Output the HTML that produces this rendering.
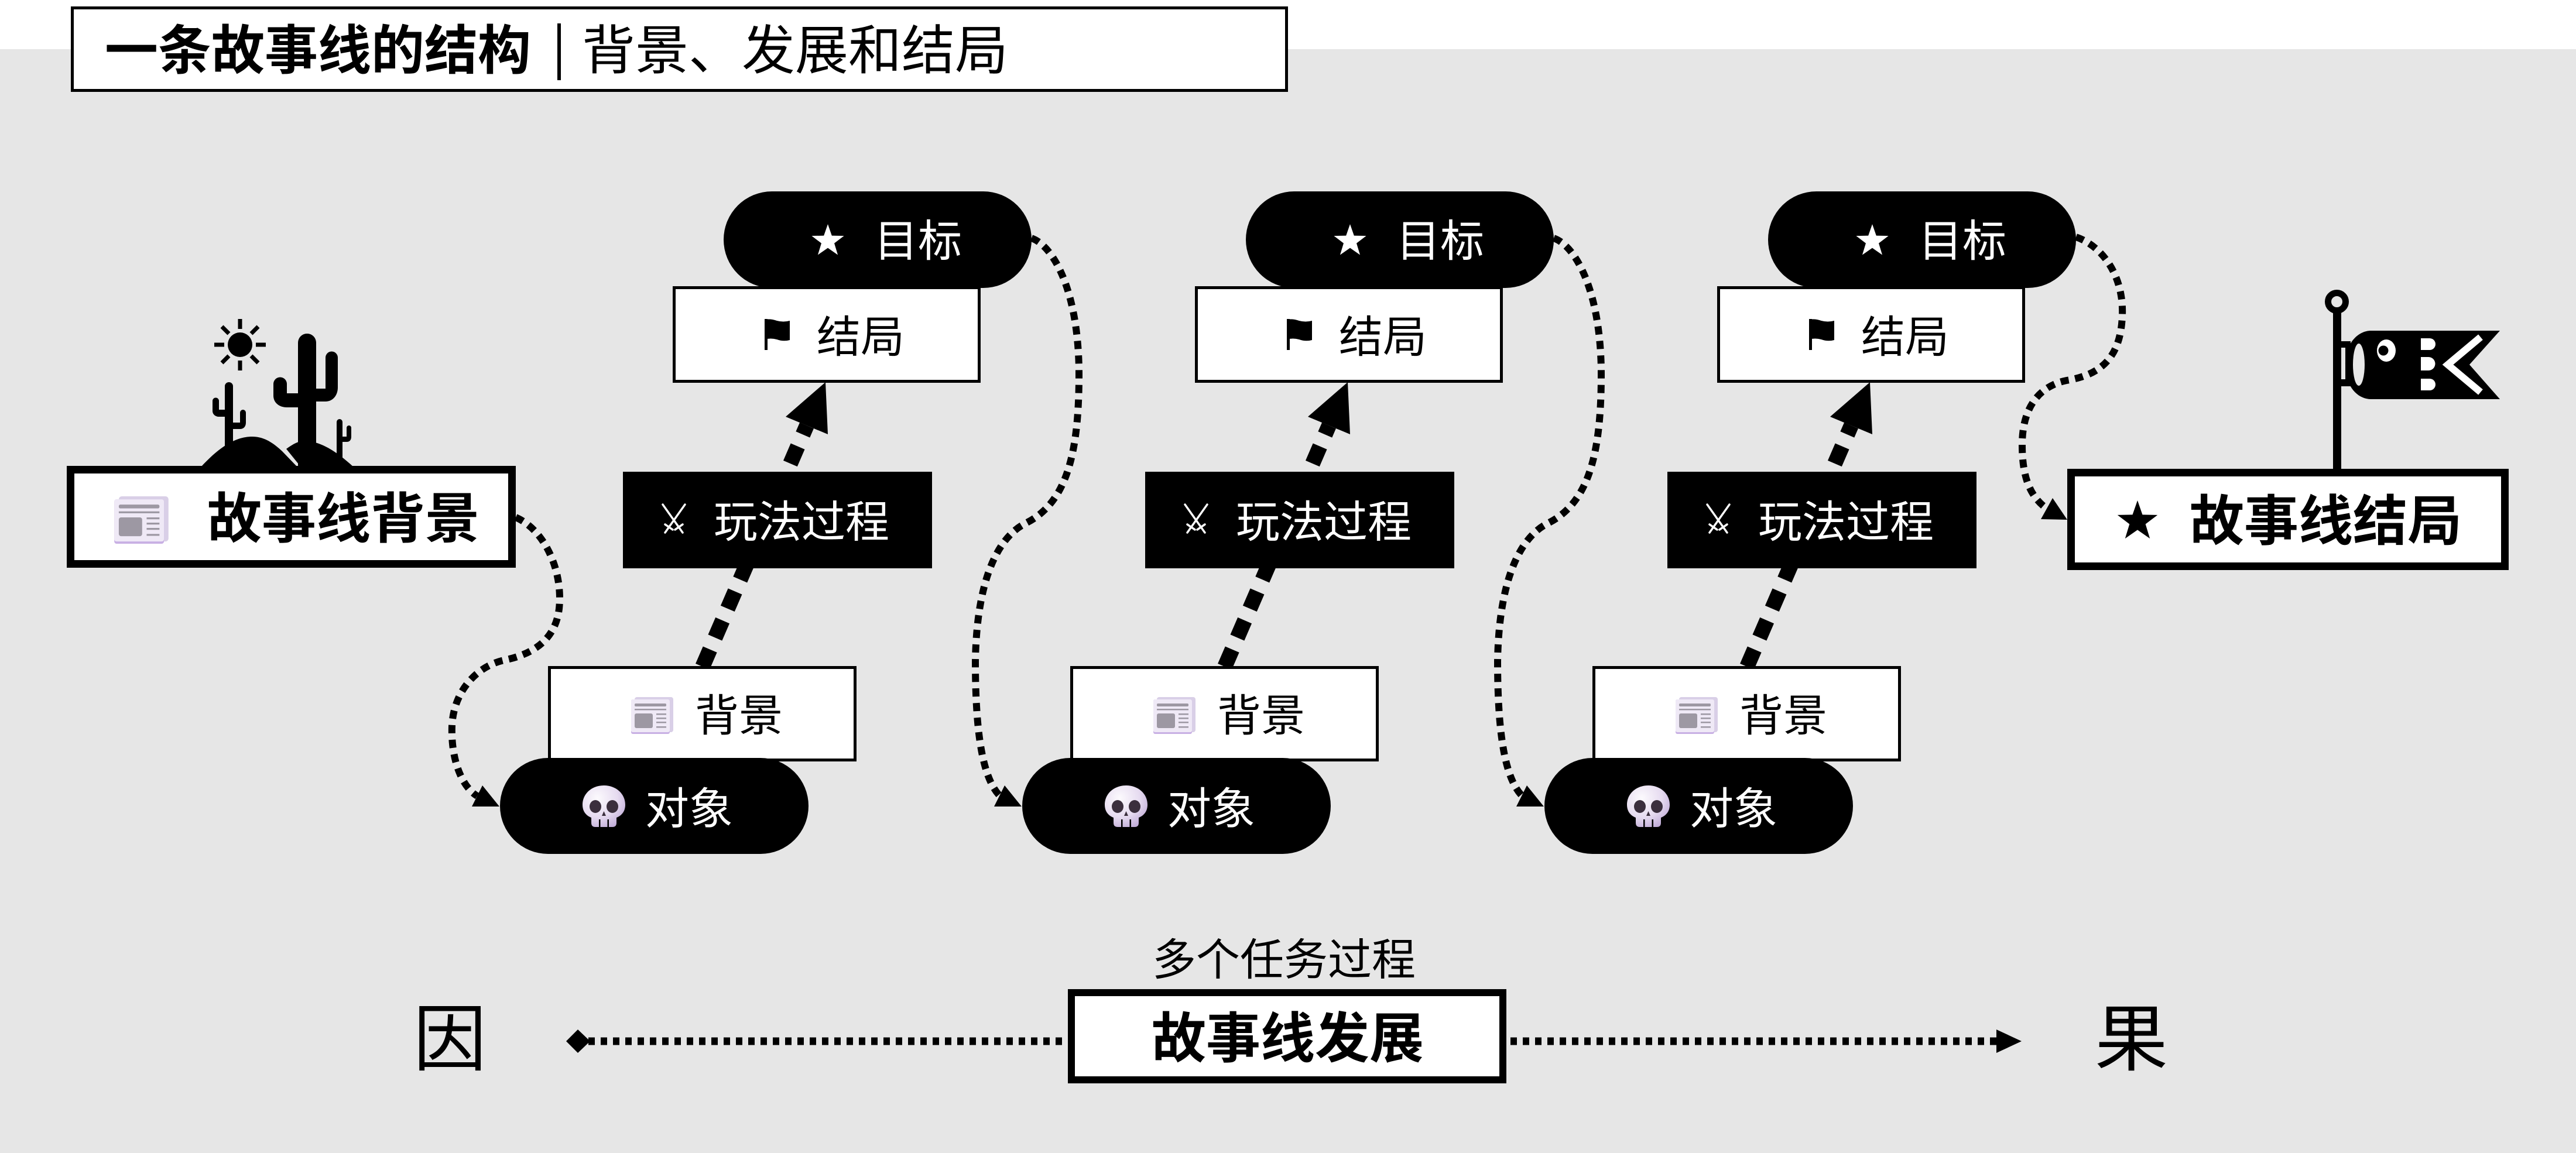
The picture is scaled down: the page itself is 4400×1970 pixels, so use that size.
<!DOCTYPE html>
<html>
<head>
<meta charset="utf-8">
<style>
html,body{margin:0;padding:0;background:#e6e6e6;}
svg{display:block}
text{font-family:"Liberation Sans","Noto Sans CJK SC","WenQuanYi Zen Hei",sans-serif;}
.b{font-weight:700}
</style>
</head>
<body>
<svg xmlns="http://www.w3.org/2000/svg" width="4400" height="1970" viewBox="0 0 4400 1970">
<defs>
  <radialGradient id="sk" cx="0.35" cy="0.3" r="0.85">
    <stop offset="0" stop-color="#fcfafd"/>
    <stop offset="0.55" stop-color="#e6dbf0"/>
    <stop offset="1" stop-color="#b9a2d3"/>
  </radialGradient>
  <symbol id="news" viewBox="0 0 72 63">
    <rect x="6" y="0" width="66" height="60" rx="4" fill="#d9cfe7"/>
    <rect x="0" y="4" width="66" height="59" rx="3" fill="#c8b0e4"/>
    <rect x="0" y="4" width="66" height="56" rx="3" fill="#efe9f6"/>
    <rect x="6" y="11" width="54" height="5" rx="2" fill="#9d98a3"/>
    <rect x="6" y="20" width="54" height="2.5" fill="#9d98a3"/>
    <rect x="6" y="28" width="31" height="25" rx="3" fill="#9d98a3"/>
    <rect x="43" y="28" width="17" height="2.5" fill="#9d98a3"/>
    <rect x="43" y="35" width="17" height="2.5" fill="#9d98a3"/>
    <rect x="43" y="42" width="17" height="2.5" fill="#9d98a3"/>
    <rect x="43" y="50" width="17" height="2.5" fill="#9d98a3"/>
  </symbol>
  <symbol id="skull" viewBox="0 0 73 71">
    <path d="M36.5 0 C57 0 73 14 73 33 C73 45 66 52 58 55 L58 64 Q58 71 51 71 L22 71 Q15 71 15 64 L15 55 C7 52 0 45 0 33 C0 14 16 0 36.5 0 Z" fill="url(#sk)"/>
    <ellipse cx="22" cy="36" rx="10" ry="11" fill="#3b2f3d"/>
    <ellipse cx="51" cy="36" rx="10" ry="11" fill="#3b2f3d"/>
    <path d="M36.5 44 L40 52 L33 52 Z" fill="#3b2f3d"/>
    <rect x="28" y="58" width="2.5" height="13" fill="#000"/>
    <rect x="42.5" y="58" width="2.5" height="13" fill="#000"/>
  </symbol>
  <symbol id="swords" viewBox="0 0 46 54">
    <g stroke="#fff" stroke-width="3.5" stroke-linecap="round" fill="none">
      <line x1="4" y1="2" x2="38" y2="50"/>
      <line x1="42" y1="2" x2="8" y2="50"/>
      <line x1="25" y1="45" x2="38" y2="36"/>
      <line x1="8" y1="36" x2="21" y2="45"/>
    </g>
  </symbol>
  <symbol id="flag" viewBox="0 0 43 53">
    <rect x="0" y="0" width="5" height="53" fill="#000"/>
    <path d="M0 1 Q10 -1 21 3 Q32 6 43 3 L43 36 Q32 39 21 35 Q10 32 0 35 Z" fill="#000"/>
  </symbol>
</defs>

<!-- backgrounds -->
<rect x="0" y="0" width="4400" height="84" fill="#ffffff"/>
<rect x="0" y="84" width="4400" height="1886" fill="#e6e6e6"/>

<!-- title -->
<rect x="123.5" y="13.5" width="2074" height="141" fill="#fff" stroke="#000" stroke-width="5"/>
<text x="179" y="118" font-size="91" class="b" fill="#000">一条故事线的结构</text>
<rect x="952" y="40" width="6" height="97" fill="#000"/>
<text x="994" y="118" font-size="91" fill="#000">背景、发展和结局</text>

<!-- sun & cacti -->
<g fill="#000">
  <circle cx="410" cy="589" r="21"/>
  <g stroke="#000" stroke-width="7">
    <line x1="410" y1="562" x2="410" y2="545"/>
    <line x1="429" y1="570" x2="441" y2="558"/>
    <line x1="437" y1="589" x2="454" y2="589"/>
    <line x1="429" y1="608" x2="441" y2="620"/>
    <line x1="410" y1="616" x2="410" y2="633"/>
    <line x1="391" y1="608" x2="379" y2="620"/>
    <line x1="383" y1="589" x2="366" y2="589"/>
    <line x1="391" y1="570" x2="379" y2="558"/>
  </g>
  <rect x="509" y="570" width="31" height="240" rx="15.5"/>
  <path d="M467,656 A11.5,11.5 0 0 1 490,656 L490,672 L512,672 L512,696 L490,696 C477,696 467,688 467,676 Z"/>
  <path d="M556,611 A10.5,10.5 0 0 1 577,611 L577,662 C577,676 568,686 556,686 L535,686 L535,664 L556,664 Z"/>
  <rect x="384" y="653" width="14" height="130" rx="7"/>
  <path d="M363,685 A5.5,5.5 0 0 1 374,685 L374,700 L386,700 L386,712 L374,712 C368,712 363,708 363,702 Z"/>
  <path d="M410,705 A5,5 0 0 1 420,705 L420,722 C420,729 416,733 410,733 L396,733 L396,722 L410,722 Z"/>
  <rect x="575" y="716" width="10" height="80" rx="5"/>
  <path d="M592,731 A4,4 0 0 1 600,731 L600,746 C600,752 597,755 592,755 L583,755 L583,746 L592,746 Z"/>
  <path d="M489,767 C500,759 510,753 522,753 C552,755 580,776 604,798 L514,798 Z"/>
  <path d="M343,798 C378,760 405,746 431,746 C452,746 468,758 482,771 L508,798 Z"/>
</g>

<!-- windsock flag -->
<g>
  <rect x="3985" y="532" width="14" height="272" fill="#000"/>
  <circle cx="3991.5" cy="515.5" r="15" fill="none" stroke="#000" stroke-width="11"/>
  <rect x="3995" y="583" width="20" height="77" fill="#000"/>
  <rect x="3999" y="594" width="7" height="54" fill="#e6e6e6"/>
  <path d="M4050 565 L4270 565 L4218 623 L4270 682 L4050 682 C4028 682 4006 662 4006 623 C4006 586 4028 565 4050 565 Z" fill="#000"/>
  <ellipse cx="4029" cy="623" rx="10" ry="36" fill="#e8e8e8"/>
  <ellipse cx="4076" cy="599" rx="16" ry="19" fill="#fff"/>
  <circle cx="4071" cy="599" r="8.5" fill="#000"/>
  <path d="M4135,578 L4150,578 A10,10 0 0 1 4150,598 L4135,598 Z" fill="#fff"/>
  <path d="M4135,610 L4148,610 A11.5,11.5 0 0 1 4148,633 L4135,633 Z" fill="#fff"/>
  <path d="M4135,647 L4150,647 A10,10 0 0 1 4150,667 L4135,667 Z" fill="#fff"/>
  <polyline points="4237,576 4181,623 4237,670" fill="none" stroke="#fff" stroke-width="12"/>
</g>

<!-- dotted curves -->
<g fill="none" stroke="#000" stroke-width="12" stroke-dasharray="14 11">
  <path d="M881 884 C930 905 962 975 955 1040 C948 1100 900 1120 861 1128 C815 1138 775 1180 772 1240 C770 1300 790 1345 815 1360"/>
  <path d="M1762 407 C1800 420 1843 500 1843 640 C1843 780 1820 860 1752 894 C1700 920 1668 1000 1666 1130 C1666 1260 1680 1330 1707 1359"/>
  <path d="M2654 407 C2692 420 2735 500 2735 640 C2735 780 2712 860 2644 894 C2592 920 2560 1000 2558 1130 C2558 1260 2572 1330 2599 1359"/>
  <path d="M3546 405 C3590 420 3628 470 3625 540 C3622 610 3590 640 3530 650 C3480 660 3454 700 3454 760 C3454 820 3470 850 3496 869"/>
</g>
<g fill="#000">
  <polygon points="853,1378 806,1378 824,1342"/>
  <polygon points="1745,1378 1698,1378 1716,1342"/>
  <polygon points="2637,1378 2590,1378 2608,1342"/>
  <polygon points="3531,888 3486,887 3506,851"/>
</g>

<!-- clusters -->
<g transform="translate(0,0)">
  <line x1="1200" y1="1139" x2="1378" y2="727" stroke="#000" stroke-width="26" stroke-dasharray="32 22"/>
  <polygon points="1410,653 1414,742 1342,712" fill="#000"/>
  <rect x="1236" y="327" width="526" height="165" rx="82.5" fill="#000"/>
  <polygon transform="translate(1414,412) scale(29)" fill="#fff" points="0,-1 0.235,-0.324 0.951,-0.309 0.380,0.124 0.588,0.809 0,0.4 -0.588,0.809 -0.380,0.124 -0.951,-0.309 -0.235,-0.324"/>
  <text x="1493" y="438" font-size="75" fill="#fff">目标</text>
  <rect x="1151.5" y="491.5" width="521" height="160" fill="#fff" stroke="#000" stroke-width="5"/>
  <use href="#flag" x="1306" y="545" width="43" height="53"/>
  <text x="1395" y="602" font-size="75" fill="#000">结局</text>
  <rect x="1064" y="806" width="528" height="165" fill="#000"/>
  <use href="#swords" x="1128" y="860" width="46" height="54"/>
  <text x="1219" y="918" font-size="75" fill="#fff">玩法过程</text>
  <rect x="938.5" y="1140.5" width="522" height="158" fill="#fff" stroke="#000" stroke-width="5"/>
  <use href="#news" x="1078" y="1191" width="72" height="63"/>
  <text x="1187" y="1249" font-size="75" fill="#000">背景</text>
  <rect x="854" y="1295" width="527" height="164" rx="82" fill="#000"/>
  <use href="#skull" x="995" y="1342" width="73" height="71"/>
  <text x="1102" y="1408" font-size="75" fill="#fff">对象</text>
</g>

<g transform="translate(892,0)">
  <line x1="1200" y1="1139" x2="1378" y2="727" stroke="#000" stroke-width="26" stroke-dasharray="32 22"/>
  <polygon points="1410,653 1414,742 1342,712" fill="#000"/>
  <rect x="1236" y="327" width="526" height="165" rx="82.5" fill="#000"/>
  <polygon transform="translate(1414,412) scale(29)" fill="#fff" points="0,-1 0.235,-0.324 0.951,-0.309 0.380,0.124 0.588,0.809 0,0.4 -0.588,0.809 -0.380,0.124 -0.951,-0.309 -0.235,-0.324"/>
  <text x="1493" y="438" font-size="75" fill="#fff">目标</text>
  <rect x="1151.5" y="491.5" width="521" height="160" fill="#fff" stroke="#000" stroke-width="5"/>
  <use href="#flag" x="1306" y="545" width="43" height="53"/>
  <text x="1395" y="602" font-size="75" fill="#000">结局</text>
  <rect x="1064" y="806" width="528" height="165" fill="#000"/>
  <use href="#swords" x="1128" y="860" width="46" height="54"/>
  <text x="1219" y="918" font-size="75" fill="#fff">玩法过程</text>
  <rect x="938.5" y="1140.5" width="522" height="158" fill="#fff" stroke="#000" stroke-width="5"/>
  <use href="#news" x="1078" y="1191" width="72" height="63"/>
  <text x="1187" y="1249" font-size="75" fill="#000">背景</text>
  <rect x="854" y="1295" width="527" height="164" rx="82" fill="#000"/>
  <use href="#skull" x="995" y="1342" width="73" height="71"/>
  <text x="1102" y="1408" font-size="75" fill="#fff">对象</text>
</g>

<g transform="translate(1784,0)">
  <line x1="1200" y1="1139" x2="1378" y2="727" stroke="#000" stroke-width="26" stroke-dasharray="32 22"/>
  <polygon points="1410,653 1414,742 1342,712" fill="#000"/>
  <rect x="1236" y="327" width="526" height="165" rx="82.5" fill="#000"/>
  <polygon transform="translate(1414,412) scale(29)" fill="#fff" points="0,-1 0.235,-0.324 0.951,-0.309 0.380,0.124 0.588,0.809 0,0.4 -0.588,0.809 -0.380,0.124 -0.951,-0.309 -0.235,-0.324"/>
  <text x="1493" y="438" font-size="75" fill="#fff">目标</text>
  <rect x="1151.5" y="491.5" width="521" height="160" fill="#fff" stroke="#000" stroke-width="5"/>
  <use href="#flag" x="1306" y="545" width="43" height="53"/>
  <text x="1395" y="602" font-size="75" fill="#000">结局</text>
  <rect x="1064" y="806" width="528" height="165" fill="#000"/>
  <use href="#swords" x="1128" y="860" width="46" height="54"/>
  <text x="1219" y="918" font-size="75" fill="#fff">玩法过程</text>
  <rect x="938.5" y="1140.5" width="522" height="158" fill="#fff" stroke="#000" stroke-width="5"/>
  <use href="#news" x="1078" y="1191" width="72" height="63"/>
  <text x="1187" y="1249" font-size="75" fill="#000">背景</text>
  <rect x="854" y="1295" width="527" height="164" rx="82" fill="#000"/>
  <use href="#skull" x="995" y="1342" width="73" height="71"/>
  <text x="1102" y="1408" font-size="75" fill="#fff">对象</text>
</g>

<!-- story background node -->
<rect x="120.5" y="802.5" width="754" height="161" fill="#fff" stroke="#000" stroke-width="13"/>
<use href="#news" x="195" y="848" width="93" height="81"/>
<text x="354" y="919" font-size="93" class="b" fill="#000">故事线背景</text>

<!-- story ending node -->
<rect x="3537.5" y="807.5" width="741" height="160" fill="#fff" stroke="#000" stroke-width="13"/>
<polygon transform="translate(3651,891) scale(36)" fill="#000" points="0,-1 0.235,-0.324 0.951,-0.309 0.380,0.124 0.588,0.809 0,0.4 -0.588,0.809 -0.380,0.124 -0.951,-0.309 -0.235,-0.324"/>
<text x="3740" y="923" font-size="93" class="b" fill="#000">故事线结局</text>

<!-- bottom timeline -->
<line x1="1005" y1="1779" x2="3414" y2="1779" stroke="#000" stroke-width="13" stroke-dasharray="11 10"/>
<polygon points="967,1779 987,1759 1008,1779 987,1799" fill="#000"/>
<polygon points="3410,1759 3453,1779 3410,1799" fill="#000"/>
<text x="1968" y="1666" font-size="75" fill="#000">多个任务过程</text>
<rect x="1830" y="1696" width="737" height="149" fill="#fff" stroke="#000" stroke-width="12"/>
<text x="1967" y="1807" font-size="93" class="b" fill="#000">故事线发展</text>
<text x="706" y="1819" font-size="125" fill="#000">因</text>
<text x="3578" y="1819" font-size="125" fill="#000">果</text>
</svg>
</body>
</html>
